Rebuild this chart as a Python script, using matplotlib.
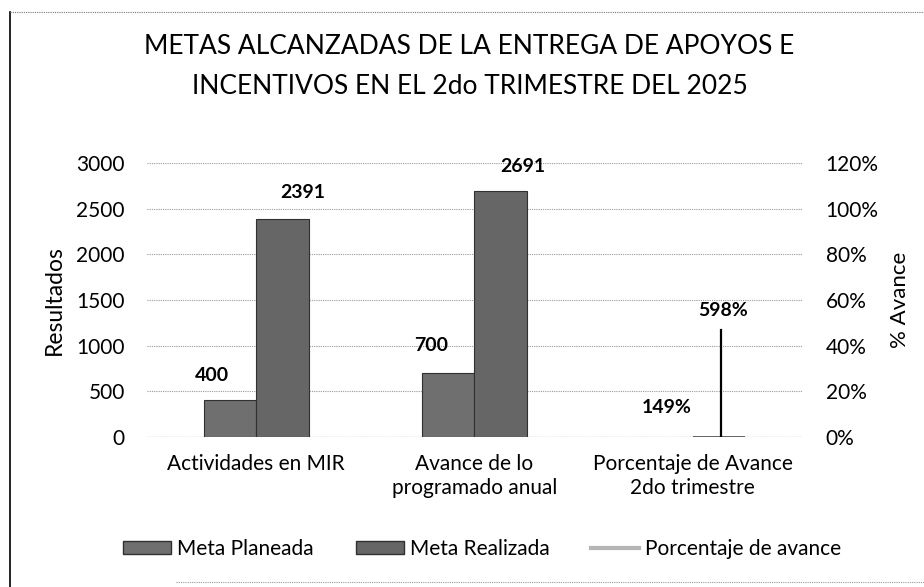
import matplotlib
matplotlib.use('Agg')
import numpy as np
import matplotlib.pyplot as plt, matplotlib.patches as mpatches
from matplotlib.lines import Line2D
from matplotlib.ticker import PercentFormatter

# Data
categorias = ['Actividades en MIR', 'Avance de lo\nprogramado anual', 'Porcentaje de Avance\n2do trimestre']
meta_planeada = [400, 700, 1.49]
meta_realizada = [2391, 2691, 5.98]
etiquetas_planeada = ['400', '700', '149%']
etiquetas_realizada = ['2391', '2691', '598%']
# Porcentaje de avance line (secondary axis, fraction)
linea_avance = [0, 0.47]

plt.rcParams['font.family'] = ['Lato', 'DejaVu Sans']

fig = plt.figure(figsize = (9.24, 5.87), dpi = 100, facecolor = 'white')
ax = fig.add_axes([0.159, 0.2555, 0.709, 0.4668])
ax2 = ax.twinx()

x = np.arange(len(categorias))
w = 0.24
gris_p, gris_r, borde = '#6f6f6f', '#666666', '#303030'
# no visible outline for the near-zero bars of the third category
lw = [0.8 if v > 50 else 0 for v in meta_planeada]
ax.bar(x - w/2, meta_planeada, w, color = gris_p, edgecolor = borde, linewidth = lw, zorder = 3)
lw = [0.8 if v > 50 else 0 for v in meta_realizada]
ax.bar(x + w/2, meta_realizada, w, color = gris_r, edgecolor = borde, linewidth = lw, zorder = 3)

# Data labels (moved by hand in the original)
off_plan = [(-13, 18), (-12, 20), (0, 21)]
off_real = [(15, 19), (16, 18), (3, 91)]
for i in range(len(categorias)):
    ax.annotate(etiquetas_planeada[i], (x[i] - w/2, meta_planeada[i]), xytext = off_plan[i],
                textcoords = 'offset points', ha = 'center', va = 'center', fontsize = 14, fontweight = 'bold')
    ax.annotate(etiquetas_realizada[i], (x[i] + w/2, meta_realizada[i]), xytext = off_real[i],
                textcoords = 'offset points', ha = 'center', va = 'center', fontsize = 14, fontweight = 'bold')

# Percentage line on secondary axis
ax2.plot([x[2] + w/2 + 0.01] * 2, linea_avance, color = 'black', lw = 1.6, zorder = 4)

ax.set_xlim(-0.5, 2.5)
ax.set_ylim(0, 3000)
ax.set_yticks(np.arange(0, 3001, 500))
ax2.set_ylim(0, 1.2)
ax2.set_yticks(np.arange(0, 1.21, 0.2))
ax2.yaxis.set_major_formatter(PercentFormatter(1.0, decimals = 0))

ax.set_xticks(x)
ax.set_xticklabels(categorias, fontsize = 15, linespacing = 1.3)
ax.tick_params(axis = 'x', length = 0, pad = 12)
ax.tick_params(axis = 'y', length = 0, labelsize = 15, pad = 16)
ax2.tick_params(axis = 'y', length = 0, labelsize = 15, pad = 17)

ax.grid(axis = 'y', color = '#999999', linestyle = (0, (1, 1)), linewidth = 0.8, zorder = 0)
for a in (ax, ax2):
    for s in a.spines.values():
        s.set_visible(False)
ax.axhline(0, color = '#888888', linestyle = (0, (1, 1)), linewidth = 0.9, zorder = 2)

ax.set_ylabel('Resultados', fontsize = 16.5, labelpad = 8)
ax2.set_ylabel('% Avance', fontsize = 16, labelpad = 8)

fig.text(0.508, 0.886, 'METAS ALCANZADAS DE LA ENTREGA DE APOYOS E\nINCENTIVOS EN EL 2do TRIMESTRE DEL 2025',
         ha = 'center', va = 'center', fontsize = 19, linespacing = 1.75)

# Legend
handles = [mpatches.Patch(facecolor = gris_p, edgecolor = borde, label = 'Meta Planeada'),
           mpatches.Patch(facecolor = gris_r, edgecolor = borde, label = 'Meta Realizada'),
           Line2D([0], [0], color = '#b5b5b5', lw = 3, label = 'Porcentaje de avance')]
fig.legend(handles = handles, loc = 'center', bbox_to_anchor = (0.522, 0.065), ncol = 3, frameon = False,
           fontsize = 15, handlelength = 2.3, handleheight = 0.6, handletextpad = 0.3, columnspacing = 2.0)

# Chart border remnants from the scan
fig.add_artist(Line2D([0.011, 0.011], [0.0, 0.98], color = 'black', lw = 1.2, transform = fig.transFigure))
fig.add_artist(Line2D([0.011, 1.0], [0.98, 0.98], color = '#777777', lw = 0.8, linestyle = (0, (1, 1)), transform = fig.transFigure))
fig.add_artist(Line2D([0.19, 1.0], [0.008, 0.008], color = '#999999', lw = 0.8, linestyle = (0, (1, 1)), transform = fig.transFigure))

plt.savefig('out.png', dpi = 100, facecolor = 'white')
